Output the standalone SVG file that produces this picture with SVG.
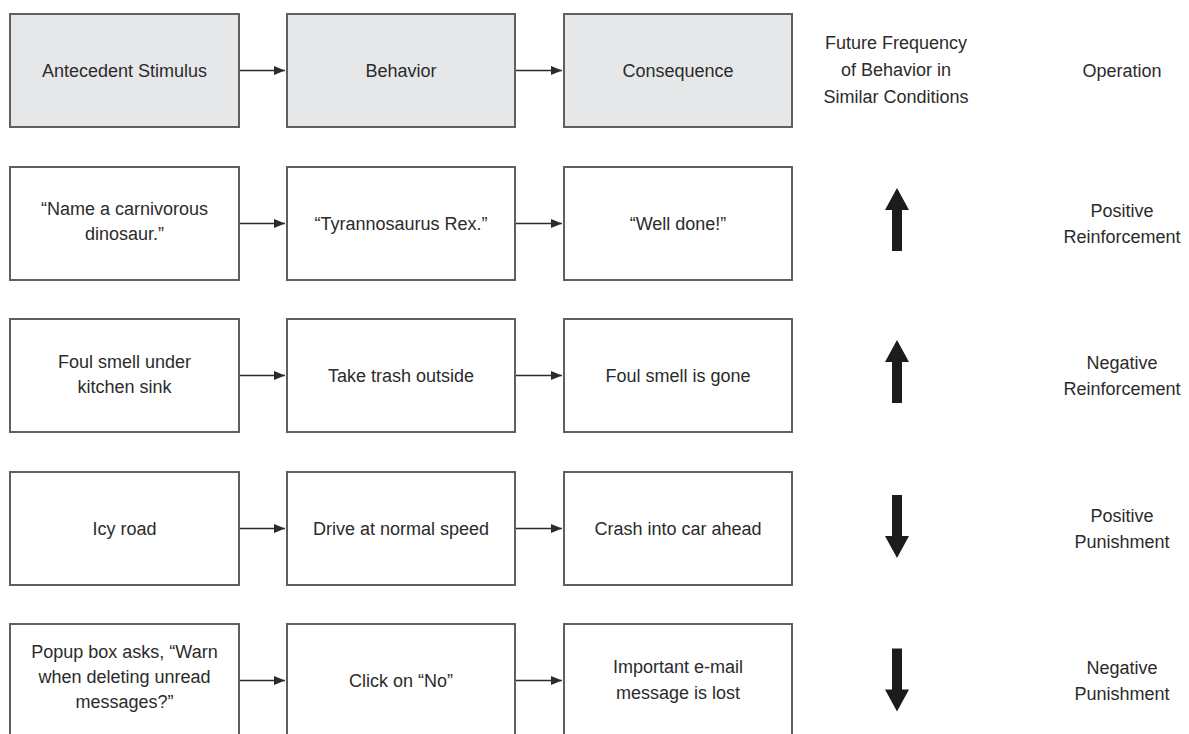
<svg xmlns="http://www.w3.org/2000/svg" width="1189" height="734" viewBox="0 0 1189 734">
<style>
  .box { fill: #ffffff; stroke: #5f5f5f; stroke-width: 2; }
  .hdr { fill: #e6e7e9; }
  .t { font-family: "Liberation Sans", Arial, sans-serif; font-size: 18px; fill: #2b2b2b; text-anchor: middle; }
  .conn { stroke: #2b2b2b; stroke-width: 1.6; fill: none; marker-end: url(#ah); }
  .big { fill: #1c1c1c; }
</style>
<defs>
  <marker id="ah" markerUnits="userSpaceOnUse" markerWidth="12" markerHeight="9" refX="11" refY="4.5" orient="auto">
    <path d="M0,0 L11,4.5 L0,9 Z" fill="#2b2b2b"/>
  </marker>
  <path id="up" d="M0,-31.5 L12,-9.5 L5,-9.5 L5,31.5 L-5,31.5 L-5,-9.5 L-12,-9.5 Z"/>
</defs>
<rect width="1189" height="734" fill="#ffffff"/>

<g id="connectors">
  <line class="conn" x1="239" y1="70.5" x2="285" y2="70.5"/>
  <line class="conn" x1="515" y1="70.5" x2="562" y2="70.5"/>
  <line class="conn" x1="239" y1="223.5" x2="285" y2="223.5"/>
  <line class="conn" x1="515" y1="223.5" x2="562" y2="223.5"/>
  <line class="conn" x1="239" y1="375.5" x2="285" y2="375.5"/>
  <line class="conn" x1="515" y1="375.5" x2="562" y2="375.5"/>
  <line class="conn" x1="239" y1="528.5" x2="285" y2="528.5"/>
  <line class="conn" x1="515" y1="528.5" x2="562" y2="528.5"/>
  <line class="conn" x1="239" y1="680.5" x2="285" y2="680.5"/>
  <line class="conn" x1="515" y1="680.5" x2="562" y2="680.5"/>
</g>

<!-- Header row -->
<g id="h-antecedent">
  <rect class="box hdr" x="10" y="14" width="229" height="113"/>
  <text class="t" x="124.5" y="77">Antecedent Stimulus</text>
</g>
<g id="h-behavior">
  <rect class="box hdr" x="287" y="14" width="228" height="113"/>
  <text class="t" x="401" y="77">Behavior</text>
</g>
<g id="h-consequence">
  <rect class="box hdr" x="564" y="14" width="228" height="113"/>
  <text class="t" x="678" y="77">Consequence</text>
</g>
<g id="h-frequency">
  <text class="t" x="896" y="49">Future Frequency</text>
  <text class="t" x="896" y="76">of Behavior in</text>
  <text class="t" x="896" y="103">Similar Conditions</text>
</g>
<g id="h-operation">
  <text class="t" x="1122" y="77">Operation</text>
</g>

<!-- Row 2 -->
<g id="r2-antecedent">
  <rect class="box" x="10" y="167" width="229" height="113"/>
  <text class="t" x="124.5" y="215">“Name a carnivorous</text>
  <text class="t" x="124.5" y="240">dinosaur.”</text>
</g>
<g id="r2-behavior">
  <rect class="box" x="287" y="167" width="228" height="113"/>
  <text class="t" x="401" y="229.5">“Tyrannosaurus Rex.”</text>
</g>
<g id="r2-consequence">
  <rect class="box" x="564" y="167" width="228" height="113"/>
  <text class="t" x="678" y="229.5">“Well done!”</text>
</g>
<g id="r2-frequency"><use href="#up" class="big" transform="translate(897,219.5)"/></g>
<g id="r2-operation">
  <text class="t" x="1122" y="217">Positive</text>
  <text class="t" x="1122" y="243">Reinforcement</text>
</g>

<!-- Row 3 -->
<g id="r3-antecedent">
  <rect class="box" x="10" y="319" width="229" height="113"/>
  <text class="t" x="124.5" y="368">Foul smell under</text>
  <text class="t" x="124.5" y="393">kitchen sink</text>
</g>
<g id="r3-behavior">
  <rect class="box" x="287" y="319" width="228" height="113"/>
  <text class="t" x="401" y="381.5">Take trash outside</text>
</g>
<g id="r3-consequence">
  <rect class="box" x="564" y="319" width="228" height="113"/>
  <text class="t" x="678" y="381.5">Foul smell is gone</text>
</g>
<g id="r3-frequency"><use href="#up" class="big" transform="translate(897,371.5)"/></g>
<g id="r3-operation">
  <text class="t" x="1122" y="369">Negative</text>
  <text class="t" x="1122" y="395">Reinforcement</text>
</g>

<!-- Row 4 -->
<g id="r4-antecedent">
  <rect class="box" x="10" y="472" width="229" height="113"/>
  <text class="t" x="124.5" y="534.5">Icy road</text>
</g>
<g id="r4-behavior">
  <rect class="box" x="287" y="472" width="228" height="113"/>
  <text class="t" x="401" y="534.5">Drive at normal speed</text>
</g>
<g id="r4-consequence">
  <rect class="box" x="564" y="472" width="228" height="113"/>
  <text class="t" x="678" y="534.5">Crash into car ahead</text>
</g>
<g id="r4-frequency"><use href="#up" class="big" transform="translate(897,526.5) rotate(180)"/></g>
<g id="r4-operation">
  <text class="t" x="1122" y="522">Positive</text>
  <text class="t" x="1122" y="548">Punishment</text>
</g>

<!-- Row 5 -->
<g id="r5-antecedent">
  <rect class="box" x="10" y="624" width="229" height="113"/>
  <text class="t" x="124.5" y="658">Popup box asks, “Warn</text>
  <text class="t" x="124.5" y="683">when deleting unread</text>
  <text class="t" x="124.5" y="708">messages?”</text>
</g>
<g id="r5-behavior">
  <rect class="box" x="287" y="624" width="228" height="113"/>
  <text class="t" x="401" y="686.5">Click on “No”</text>
</g>
<g id="r5-consequence">
  <rect class="box" x="564" y="624" width="228" height="113"/>
  <text class="t" x="678" y="673">Important e-mail</text>
  <text class="t" x="678" y="699">message is lost</text>
</g>
<g id="r5-frequency"><use href="#up" class="big" transform="translate(897,680) rotate(180)"/></g>
<g id="r5-operation">
  <text class="t" x="1122" y="674">Negative</text>
  <text class="t" x="1122" y="700">Punishment</text>
</g>
</svg>
